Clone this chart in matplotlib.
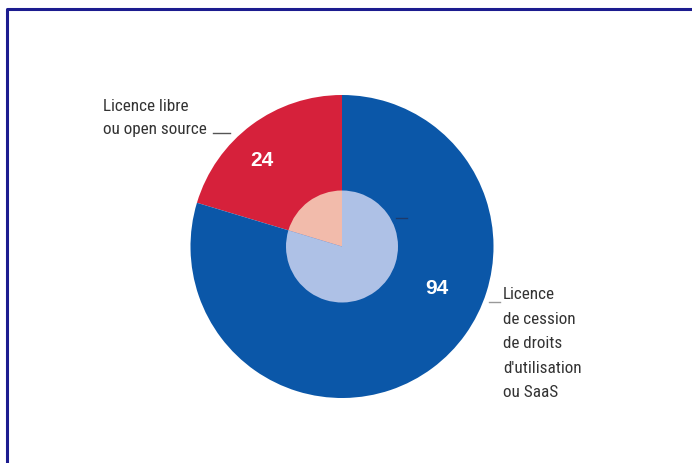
import matplotlib
matplotlib.use("Agg")
import matplotlib.pyplot as plt
from matplotlib import font_manager as fm

categories = ["Licence libre\nou open source", "Licence\nde cession\nde droits\nd'utilisation\nou SaaS"]
values = [24, 94]
outer_colors = ["#d6213b", "#0b57a8"]
inner_colors = ["#f2bbab", "#aec1e6"]

names = {f.name for f in fm.fontManager.ttflist}
fam = [f for f in ["Roboto Condensed", "Liberation Sans Narrow", "Roboto", "DejaVu Sans"] if f in names]
plt.rcParams['font.family'] = fam

W, H = 692, 464
fig = plt.figure(figsize=(W / 100, H / 100), dpi=100)
ax = fig.add_axes([0, 0, 1, 1])

def Y(y):
    return H - y

cx, cy = 342, Y(247.5)
ax.pie(values, startangle=90, counterclock=True, colors=outer_colors,
       center=(cx, cy), radius=151.5, frame=True,
       wedgeprops=dict(linewidth=0))
ax.pie(values, startangle=90, counterclock=True, colors=inner_colors,
       center=(cx, cy), radius=56, frame=True,
       wedgeprops=dict(linewidth=0))
ax.set_xlim(0, W)
ax.set_ylim(0, H)
ax.axis('off')

# value labels
ax.text(262, Y(160), str(values[0]), color="white", fontsize=15, fontweight="bold",
        ha="center", va="center", family=["Liberation Sans", "DejaVu Sans"])
ax.text(437, Y(289), str(values[1]), color="white", fontsize=15, fontweight="bold",
        ha="center", va="center", family=["Liberation Sans", "DejaVu Sans"])

# category labels
ax.text(103, Y(99), categories[0], color="#333333", fontsize=12.3, ha="left", va="top",
        linespacing=1.65)
ax.text(503, Y(287), categories[1], color="#333333", fontsize=12.3, ha="left", va="top",
        linespacing=1.8)

# leader dashes
ax.plot([213, 230], [Y(133.5), Y(133.5)], color="#555555", lw=1)
ax.plot([489, 500], [Y(302.5), Y(302.5)], color="#999999", lw=1)
ax.plot([396, 407], [Y(219), Y(219)], color="#1d3a6b", lw=1)

# frame
ax.plot([7, 7, W], [0, Y(10), Y(10)], color="#1c1c8f", lw=2.2, solid_capstyle="butt")

fig.savefig("out.png", dpi=100)
